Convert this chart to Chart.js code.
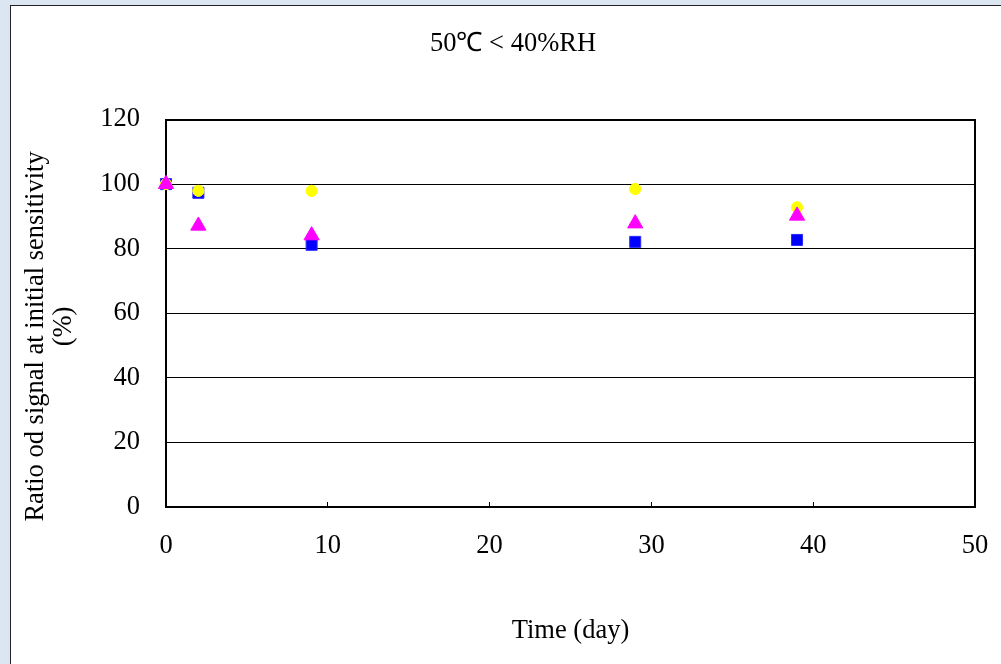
<!DOCTYPE html>
<html>
<head>
<meta charset="utf-8">
<script src="https://cdn.jsdelivr.net/npm/chart.js@4.4.0/dist/chart.umd.min.js"></script>
<style>
  html, body { margin: 0; padding: 0; width: 1001px; height: 664px; overflow: hidden; background: #dce6f2; }
  #panel { position: absolute; left: 10px; top: 5px; width: 1100px; height: 800px; background: #ffffff; border-left: 1px solid #222; border-top: 1px solid #222; }
  #c { position: absolute; left: 0; top: 0; }
</style>
</head>
<body>
<div id="panel"></div>
<canvas id="c" width="1001" height="664"></canvas>
<script>
// ---- data ----
const days = [0, 2, 9, 29, 39];
const seriesBlue = [100, 97.3, 81.2, 82.1, 82.7];
const seriesYellow = [100, 97.9, 97.9, 98.5, 92.8];
const seriesMagenta = [100, 87.1, 84.1, 87.8, 90.2];
const titleText = '50\u2103 < 40%RH';
const xTitle = 'Time (day)';
const yTitle = ['Ratio od signal at initial sensitivity\u00a0\u00a0\u00a0\u00a0\u00a0\u00a0\u00a0', '(%)\u00a0\u00a0\u00a0\u00a0'];
const xTicks = [0, 10, 20, 30, 40, 50];
const yTicks = [0, 20, 40, 60, 80, 100, 120];

const FONT = "'Liberation Serif', 'Times New Roman', serif";
const FS = 26.5;
const toPts = (ys) => ys.map((y, i) => ({ x: days[i], y: y }));

new Chart(document.getElementById('c'), {
  type: 'scatter',
  data: {
    datasets: [
      { label: 'magenta', data: toPts(seriesMagenta), order: 1, clip: false, pointStyle: 'triangle', pointRadius: 8.8,
        backgroundColor: '#ff00ff', borderColor: '#ff00ff', borderWidth: 1 },
      { label: 'yellow', data: toPts(seriesYellow), order: 2, clip: false, pointStyle: 'circle', pointRadius: 5.6,
        backgroundColor: '#ffff00', borderColor: '#ffff00', borderWidth: 1 },
      { label: 'blue', data: toPts(seriesBlue), order: 3, clip: false, pointStyle: 'rect', pointRadius: 7.8,
        backgroundColor: '#0000ff', borderColor: '#2a2aff', borderWidth: 1 }
    ]
  },
  options: {
    responsive: false,
    animation: false,
    events: [],
    layout: { padding: { left: 25, right: 0, top: 0, bottom: 0 } },
    plugins: {
      legend: { display: false },
      tooltip: { enabled: false },
      title: {
        display: true,
        text: titleText,
        color: '#000',
        font: { family: FONT, size: FS, weight: 'normal', lineHeight: 1.2 },
        padding: { top: 28.1, bottom: 59.6 }
      }
    },
    scales: {
      x: {
        type: 'linear', position: 'bottom', min: 0, max: 50,
        afterBuildTicks: (s) => { s.ticks = xTicks.map(v => ({ value: v })); },
        ticks: { color: '#000', font: { family: FONT, size: FS, lineHeight: 1.2 }, padding: 28.1, maxRotation: 0 },
        grid: { drawOnChartArea: false, drawTicks: true, tickLength: -5, color: '#000', lineWidth: 1 },
        border: { display: true, color: '#000', width: 2 },
        title: { display: true, text: xTitle, color: '#000', font: { family: FONT, size: FS, lineHeight: 1.2 }, padding: { top: 0, bottom: 16.6 } },
        afterFit: (s) => { s.height = 157; s.paddingLeft = 0; s.paddingRight = 0; }
      },
      y: {
        type: 'linear', position: 'left', min: 0, max: 120,
        afterBuildTicks: (s) => { s.ticks = yTicks.map(v => ({ value: v })); },
        ticks: { color: '#000', font: { family: FONT, size: FS, lineHeight: 1.2 }, padding: 26 },
        grid: { drawTicks: false, color: '#000', lineWidth: (ctx) => (ctx.tick && ctx.tick.value === 120 ? 2 : 1) },
        border: { display: true, color: '#000', width: 2 },
        title: { display: true, text: yTitle, color: '#000', font: { family: FONT, size: FS, lineHeight: 28 / FS }, padding: { top: -3, bottom: 0 } },
        afterFit: (s) => { s.width = 141; s.paddingTop = 0; s.paddingBottom = 0; }
      },
      yRight: {
        type: 'linear', position: 'right', min: 0, max: 120, display: true,
        grid: { display: false },
        ticks: { display: false },
        border: { display: true, color: '#000', width: 2 },
        afterFit: (s) => { s.width = 26; s.paddingTop = 0; s.paddingBottom = 0; }
      }
    }
  }
});
</script>
</body>
</html>
